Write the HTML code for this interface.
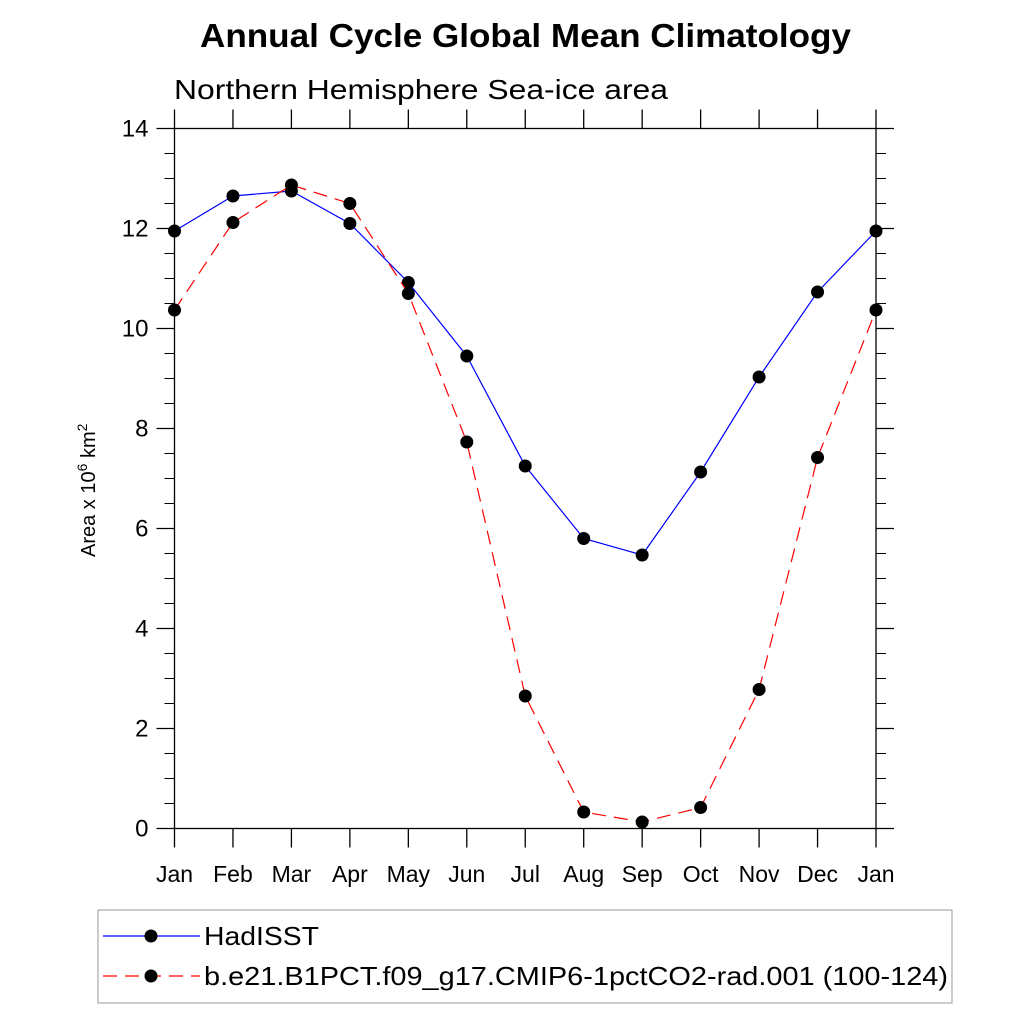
<!DOCTYPE html>
<html><head><meta charset="utf-8"><style>body{margin:0;background:#fff}svg{display:block}text{font-family:"Liberation Sans",Arial,sans-serif}</style></head>
<body>
<svg id="c" width="1024" height="1024" xmlns="http://www.w3.org/2000/svg">
<text x="200" y="47" font-size="33" font-weight="bold" textLength="651" lengthAdjust="spacingAndGlyphs">Annual Cycle Global Mean Climatology</text>
<text x="174" y="99" font-size="28" textLength="494" lengthAdjust="spacingAndGlyphs">Northern Hemisphere Sea-ice area</text>
<text transform="translate(95,557) rotate(-90)" font-size="20">Area x 10<tspan dy="-8" font-size="14">6</tspan><tspan dy="8"> km</tspan><tspan dy="-8" font-size="14">2</tspan></text>
<g id="axes"></g><g id="series"></g>
<g>
<rect x="98" y="910" width="854" height="93" fill="none" stroke="#999" stroke-width="1"/>
<line x1="103" y1="936" x2="200" y2="936" stroke="#00f" stroke-width="1.2"/>
<circle cx="151" cy="936" r="6.5"/>
<text x="204" y="945" font-size="26" textLength="115" lengthAdjust="spacingAndGlyphs">HadISST</text>
<line x1="103" y1="976" x2="200" y2="976" stroke="#f00" stroke-width="1.2" stroke-dasharray="14,8"/>
<circle cx="151" cy="976" r="6.5"/>
<text x="204" y="985" font-size="26" textLength="744" lengthAdjust="spacingAndGlyphs">b.e21.B1PCT.f09_g17.CMIP6-1pctCO2-rad.001 (100-124)</text>
</g>
</svg>
<script>
const months=["Jan","Feb","Mar","Apr","May","Jun","Jul","Aug","Sep","Oct","Nov","Dec","Jan"];
const hadisst=[11.95,12.65,12.75,12.1,10.92,9.45,7.25,5.8,5.47,7.13,9.03,10.73,11.95];
const model=[10.37,12.12,12.87,12.5,10.7,7.73,2.65,0.33,0.13,0.42,2.78,7.42,10.37];
const yTicks=[0,2,4,6,8,10,12,14];
const NS="http://www.w3.org/2000/svg";
const L=174.5,R=876,T=128.5,B=828.5;
const xs=i=>L+i*(R-L)/12, ys=v=>B-v*(B-T)/14;
function mk(tag,attrs,parent){const e=document.createElementNS(NS,tag);for(const k in attrs)e.setAttribute(k,attrs[k]);parent.appendChild(e);return e;}
const ax=document.getElementById('axes');
const fr=mk('rect',{x:L,y:T,width:R-L,height:B-T,fill:'none',stroke:'#000','stroke-width':1.3},ax);


months.forEach((m,i)=>{const x=xs(i);
 const t1=mk('line',{x1:x,y1:B,x2:x,y2:B+19,stroke:'#000','stroke-width':1.3},ax);
 
 
 const t2=mk('line',{x1:x,y1:T,x2:x,y2:T-19,stroke:'#000','stroke-width':1.3},ax);
 
 
 const tx=mk('text',{x:x,y:882,'text-anchor':'middle','font-size':23},ax);tx.textContent=m;
 
 
});
for(let v=0;v<=14.001;v+=0.5){const y=ys(v);const major=Math.abs(v%2)<1e-6;const len=major?18:10;
 const a=mk('line',{x1:L-len,y1:y,x2:L,y2:y,stroke:'#000','stroke-width':major?1.3:1},ax);
 
 
 const b=mk('line',{x1:R,y1:y,x2:R+len,y2:y,stroke:'#000','stroke-width':major?1.3:1},ax);
 
 }
yTicks.forEach(v=>{const t=mk('text',{x:L-26,y:ys(v)+8,'text-anchor':'end','font-size':24},ax);t.textContent=v;
 
 });
const sg=document.getElementById('series');
function series(vals,color,dash,name){
 const p=mk('polyline',{points:vals.map((v,i)=>xs(i)+','+ys(v)).join(' '),fill:'none',stroke:color,'stroke-width':1.2,'stroke-dasharray':dash},sg);
 
 
 vals.forEach((v,i)=>{const c=mk('circle',{cx:xs(i),cy:ys(v),r:6.5,fill:'#000'},sg);
 
 });
}
series(hadisst,'#00f','none','hadisst');
series(model,'#f00','14,8','model');
</script>
</body></html>
